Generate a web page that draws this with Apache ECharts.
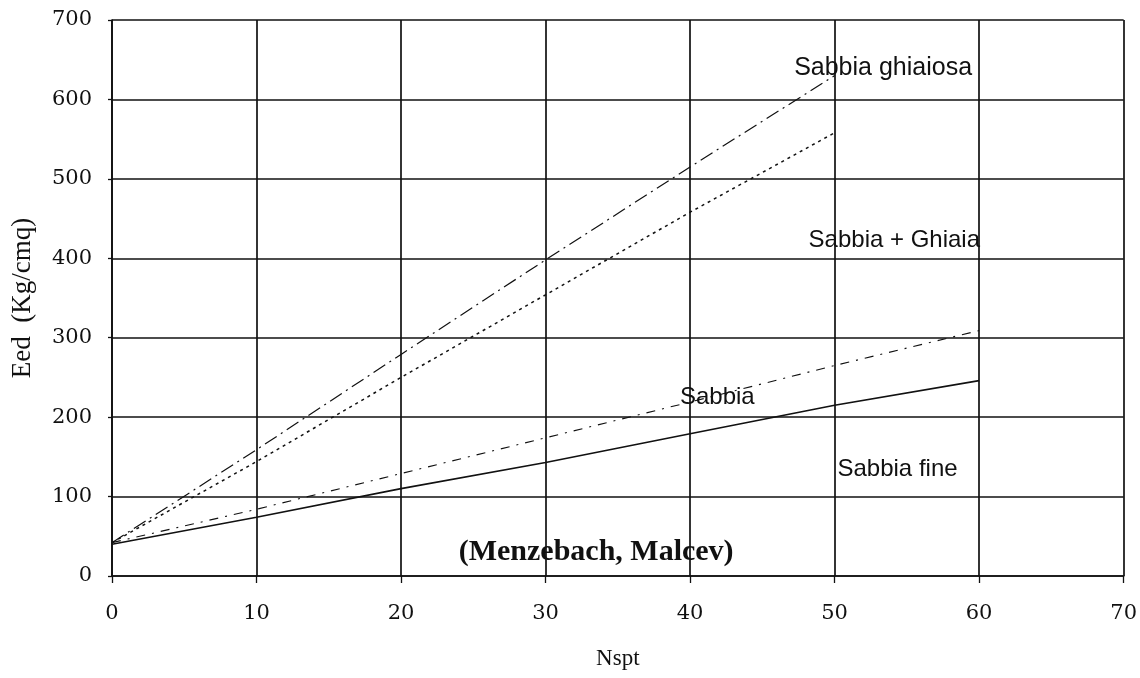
<!DOCTYPE html>
<html>
<head>
<meta charset="utf-8">
<title>Eed - Nspt (Menzebach, Malcev)</title>
<script src="https://cdn.jsdelivr.net/npm/echarts@6/dist/echarts.min.js"></script>
<style>
  html, body { margin: 0; padding: 0; background: #fff; }
  #chart { width: 1140px; height: 678px; }
</style>
</head>
<body>
<div id="chart"></div>
<script>
// Nspt values at which each curve is sampled
const nsptLong = [0, 10, 20, 30, 40, 50, 60];
const nsptShort = [0, 10, 20, 30, 40, 50];

// Eed (Kg/cmq) for each soil type
const sabbiaGhiaiosa = [42, 159, 279, 398, 515, 630];
const sabbiaGhiaia = [42, 144, 250, 354, 458, 558];
const sabbia = [42, 84, 129, 174, 219, 265, 309];
const sabbiaFine = [40, 74, 110, 143, 179, 215, 246];

// Axis tick labels
const xTicks = [0, 10, 20, 30, 40, 50, 60, 70];
const yTicks = [0, 100, 200, 300, 400, 500, 600, 700];

const pairs = (xs, ys) => ys.map((v, i) => [xs[i], v]);

const ink = '#111';
const chart = echarts.init(document.getElementById('chart'));

const lineSeries = (name, xs, ys, type, width) => ({
  name,
  type: 'line',
  data: pairs(xs, ys),
  symbol: 'none',
  silent: true,
  lineStyle: { color: ink, width, type }
});

chart.setOption({
  animation: false,
  backgroundColor: '#fff',
  grid: { left: 112, right: 15, top: 20, bottom: 102 },
  xAxis: {
    type: 'value',
    min: xTicks[0],
    max: xTicks[xTicks.length - 1],
    interval: 10,
    name: 'Nspt',
    nameLocation: 'middle',
    nameGap: 71,
    nameTextStyle: { fontFamily: 'Liberation Serif', fontSize: 23, color: ink },
    axisLine: { show: true, lineStyle: { color: ink, width: 1.7 } },
    axisTick: { show: true, length: 7, lineStyle: { color: ink, width: 1.3 } },
    axisLabel: { margin: 27, fontFamily: 'DejaVu Serif', fontSize: 21, color: ink },
    splitLine: { show: true, lineStyle: { color: ink, width: 1.7 } }
  },
  yAxis: {
    type: 'value',
    min: yTicks[0],
    max: yTicks[yTicks.length - 1],
    interval: 100,
    name: 'Eed  (Kg/cmq)',
    nameLocation: 'middle',
    nameGap: 76,
    nameRotate: 90,
    nameTextStyle: { fontFamily: 'Liberation Serif', fontSize: 27, color: ink },
    axisLine: { show: true, lineStyle: { color: ink, width: 1.7 } },
    axisTick: { show: true, length: 4, lineStyle: { color: ink, width: 1.3 } },
    axisLabel: { margin: 20, fontFamily: 'DejaVu Serif', fontSize: 21, color: ink },
    splitLine: { show: true, lineStyle: { color: ink, width: 1.7 } }
  },
  series: [
    lineSeries('Sabbia ghiaiosa', nsptShort, sabbiaGhiaiosa, [14, 5, 2, 5], 1.2),
    lineSeries('Sabbia + Ghiaia', nsptShort, sabbiaGhiaia, [3, 4], 1.5),
    lineSeries('Sabbia', nsptLong, sabbia, [9, 7, 2, 7], 1.1),
    lineSeries('Sabbia fine', nsptLong, sabbiaFine, 'solid', 1.6)
  ]
});

// Curve captions and source note, anchored in data coordinates
const captions = [
  { text: 'Sabbia ghiaiosa', at: [47.2, 640], size: 25, align: 'left', font: 'Liberation Sans', weight: 'normal' },
  { text: 'Sabbia + Ghiaia', at: [48.2, 422], size: 24, align: 'left', font: 'Liberation Sans', weight: 'normal' },
  { text: 'Sabbia', at: [39.3, 225], size: 24, align: 'left', font: 'Liberation Sans', weight: 'normal' },
  { text: 'Sabbia fine', at: [50.2, 134], size: 24, align: 'left', font: 'Liberation Sans', weight: 'normal' },
  { text: '(Menzebach, Malcev)', at: [33.5, 30], size: 30, align: 'center', font: 'Liberation Serif', weight: 'bold' }
];

chart.setOption({
  graphic: captions.map(c => {
    const p = chart.convertToPixel({ gridIndex: 0 }, c.at);
    return {
      type: 'text',
      x: p[0],
      y: p[1],
      silent: true,
      style: {
        text: c.text,
        fill: ink,
        font: `${c.weight} ${c.size}px "${c.font}"`,
        align: c.align,
        verticalAlign: 'middle'
      }
    };
  })
});
</script>
</body>
</html>
